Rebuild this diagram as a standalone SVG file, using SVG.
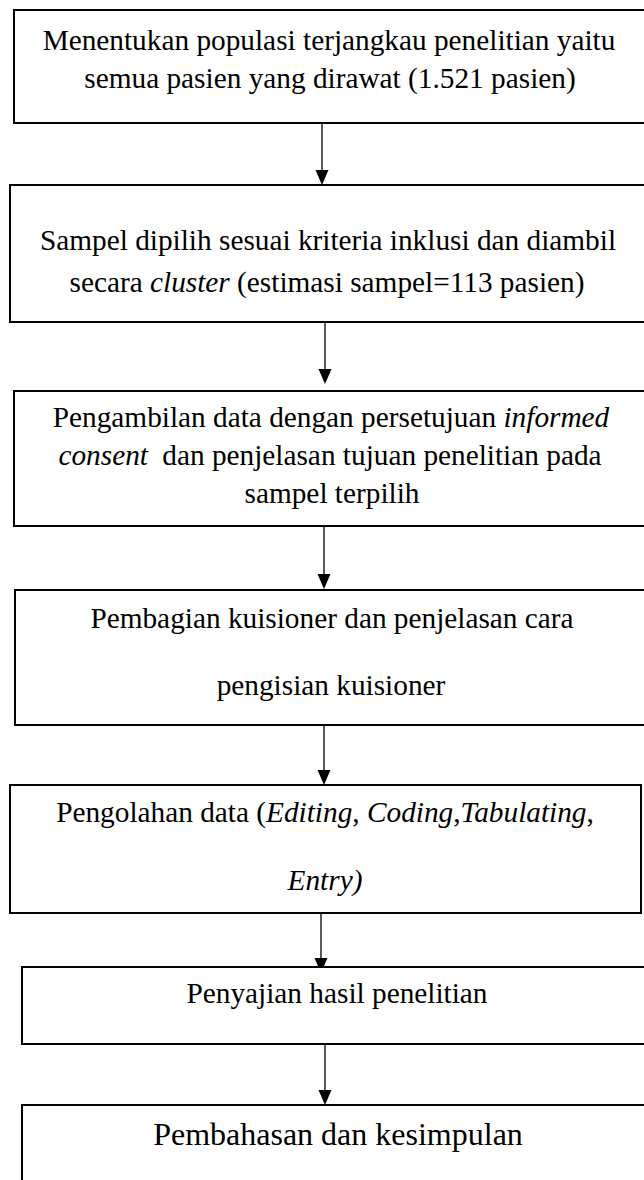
<svg xmlns="http://www.w3.org/2000/svg" width="644" height="1180" viewBox="0 0 644 1180">
<style>
.box{fill:#fff;stroke:#000;stroke-width:2}
.t{font-family:"Liberation Serif","Times New Roman",serif;font-size:29.3px;fill:#000;text-anchor:middle}
.i{font-style:italic}
.big{font-size:32px}
.c{stroke:#000;stroke-width:1.3;fill:none}
</style>
<defs>
<marker id="ah" markerUnits="userSpaceOnUse" markerWidth="14" markerHeight="16" refX="7" refY="15" orient="auto-start-reverse" viewBox="0 0 14 16">
<path d="M0,0 L14,0 L7,15 Z" fill="#000" transform="rotate(-90 7 7.5) rotate(90 7 7.5)"/>
</marker>
</defs>
<rect width="644" height="1180" fill="#fff"/>
<g id="connectors">
<path class="c" d="M322,123 V170"/><path d="M315.5,170 L328.5,170 L322,185 Z"/>
<path class="c" d="M325,322 V369"/><path d="M318.5,369 L331.5,369 L325,384 Z"/>
<path class="c" d="M324,526 V574"/><path d="M317.5,574 L330.5,574 L324,589 Z"/>
<path class="c" d="M324,725 V770"/><path d="M317.5,770 L330.5,770 L324,785 Z"/>
<path class="c" d="M321,913 V958"/><path d="M314.5,958 L327.5,958 L321,973 Z"/>
<path class="c" d="M325,1044 V1090"/><path d="M318.5,1090 L331.5,1090 L325,1105 Z"/>
</g>
<g id="n1">
<rect class="box" x="14" y="10" width="640" height="113"/>
<text class="t" x="329" y="50">Menentukan populasi terjangkau penelitian yaitu</text>
<text class="t" x="330" y="88">semua pasien yang dirawat (1.521 pasien)</text>
</g>
<g id="n2">
<rect class="box" x="10" y="185" width="644" height="137"/>
<text class="t" x="328" y="250">Sampel dipilih sesuai kriteria inklusi dan diambil</text>
<text class="t" x="327" y="292">secara <tspan class="i">cluster</tspan> (estimasi sampel=113 pasien)</text>
</g>
<g id="n3">
<rect class="box" x="14" y="391" width="640" height="135"/>
<text class="t" x="331" y="427">Pengambilan data dengan persetujuan <tspan class="i">informed</tspan></text>
<text class="t" x="330" y="465"><tspan class="i">consent</tspan><tspan dx="7"> dan penjelasan tujuan penelitian pada</tspan></text>
<text class="t" x="332" y="503">sampel terpilih</text>
</g>
<g id="n4">
<rect class="box" x="15" y="590" width="640" height="135"/>
<text class="t" x="332" y="628">Pembagian kuisioner dan penjelasan cara</text>
<text class="t" x="331" y="695">pengisian kuisioner</text>
</g>
<g id="n5">
<rect class="box" x="10" y="785" width="631" height="128"/>
<text class="t" x="325" y="822">Pengolahan data (<tspan class="i">Editing</tspan>, <tspan class="i">Coding</tspan>,<tspan class="i">Tabulating</tspan>,</text>
<text class="t i" x="325" y="890">Entry)</text>
</g>
<g id="n6">
<rect class="box" x="22" y="967" width="640" height="77"/>
<text class="t" x="337" y="1003">Penyajian hasil penelitian</text>
</g>
<g id="n7">
<rect class="box" x="22" y="1105" width="640" height="100"/>
<text class="t big" x="338" y="1145">Pembahasan dan kesimpulan</text>
</g>
</svg>
